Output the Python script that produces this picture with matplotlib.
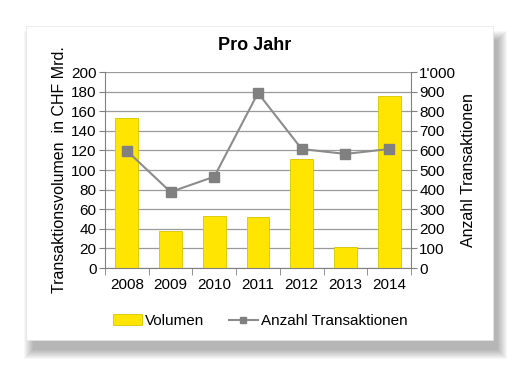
import matplotlib
matplotlib.use("Agg")
import matplotlib.pyplot as plt
from matplotlib.patches import Rectangle, Patch
from matplotlib.ticker import FuncFormatter, MultipleLocator
import numpy as np

plt.rcParams['font.family'] = ['Liberation Sans', 'DejaVu Sans']
FS = 11
LFS = 11.5

years = ['2008', '2009', '2010', '2011', '2012', '2013', '2014']
volumen = [153, 37.5, 53, 52, 111, 21, 176]
anzahl = [598, 388, 466, 893, 607, 582, 607]

W, H = 519, 366
fig = plt.figure(figsize=(W/100, H/100), dpi=100)
fig.patch.set_facecolor('white')

# soft drop shadow (mostly right / bottom)
for i in range(10):
    grow = 10 - i
    fig.patches.append(Rectangle(((26 + 8 - grow)/W, (H - 340 - 9 - grow)/H),
                                 (467 + 2*grow - 4)/W, (314 + 2*grow - 6)/H,
                                 transform=fig.transFigure, facecolor='black',
                                 alpha=0.03, edgecolor='none', zorder=0))
fig.patches.append(Rectangle((26/W, (H - 340)/H), 467/W, 314/H,
                             transform=fig.transFigure, facecolor='white',
                             edgecolor='#e4e4e4', lw=0.5, zorder=1))

ax = fig.add_axes([105/W, (H - 268)/H, (411 - 105)/W, (268 - 72)/H])
ax.set_zorder(2)
ax.patch.set_visible(False)
x = np.arange(len(years))
ax.bar(x, volumen, width=0.52, color='#FFE500', edgecolor='#D8C400', lw=0.6, zorder=2)
ax.set_xlim(-0.5, len(years) - 0.5)
ax.set_ylim(0, 200)
ax.yaxis.set_major_locator(MultipleLocator(20))
ax.grid(axis='y', color='#9a9a9a', lw=0.9, zorder=0)
ax.set_axisbelow(True)
for s in ['top', 'right']:
    ax.spines[s].set_visible(False)
ax.spines['left'].set_color('#808080')
ax.spines['bottom'].set_color('#808080')
ax.set_xticks(x)
ax.set_xticklabels(years)
ax.set_xticks(np.arange(-0.5, len(years)), minor=True)
ax.tick_params(axis='x', which='major', length=0, labelsize=FS, pad=7)
ax.tick_params(axis='x', which='minor', length=5, color='#808080', direction='out')
ax.tick_params(axis='y', length=4, color='#808080', labelsize=FS, pad=2)
ax.set_ylabel('Transaktionsvolumen  in CHF Mrd.', fontsize=LFS, labelpad=3)

ax2 = ax.twinx()
ax2.set_ylim(0, 1000)
ax2.yaxis.set_major_locator(MultipleLocator(100))
ax2.yaxis.set_major_formatter(FuncFormatter(lambda v, p: "1'000" if v >= 1000 else f"{int(v)}"))
ln, = ax2.plot(x, anzahl, color='#8c8c8c', lw=1.5, marker='s', markersize=7,
               markerfacecolor='#808080', markeredgecolor='#808080', zorder=3)
for s in ['top', 'left', 'bottom']:
    ax2.spines[s].set_visible(False)
ax2.spines['right'].set_color('#808080')
ax2.tick_params(axis='y', length=4, color='#808080', labelsize=FS, pad=2)
ax2.set_ylabel('Anzahl Transaktionen', fontsize=LFS, labelpad=3)

fig.text(255/W, 1 - 45/H, 'Pro Jahr', ha='center', va='center', fontsize=13,
         fontweight='bold')

lnh = plt.Line2D([], [], color='#8c8c8c', lw=1.5, marker='s', markersize=5,
                 markerfacecolor='#808080', markeredgecolor='#808080')
handles = [Patch(facecolor='#FFE500', edgecolor='#D8C400', lw=0.6), lnh]
fig.legend(handles, ['Volumen', 'Anzahl Transaktionen'], loc='center',
           bbox_to_anchor=(260/W, 1 - 321/H), ncol=2, frameon=False, fontsize=FS,
           handlelength=1.9, handletextpad=0.2, columnspacing=1.6)

fig.savefig('out.png', dpi=100)
